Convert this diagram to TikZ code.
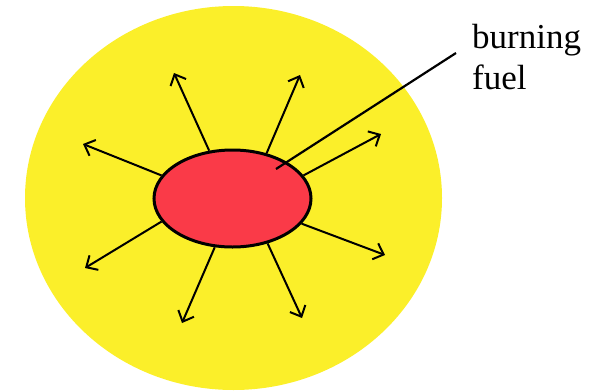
\documentclass[tikz,border=0pt]{standalone}
\usepackage{fontspec}
\setmainfont{Liberation Serif}
\usetikzlibrary{shapes.geometric,arrows.meta}
\definecolor{glowyellow}{RGB}{251,239,42}
\definecolor{fuelred}{RGB}{250,58,72}
\tikzset{
  ray/.style={line width=2pt,-{Straight Barb[length=9pt,width=17pt,line width=2pt]}},
  leader/.style={line width=2.2pt},
}
\begin{document}
\begin{tikzpicture}[x=1pt,y=-1pt]
\useasboundingbox (0,0) rectangle (604,391);
\node[ellipse,fill=glowyellow,inner sep=0,minimum width=417pt,minimum height=384pt] (glow) at (233.5,198) {};
\node[ellipse,fill=fuelred,draw=black,line width=3pt,inner sep=0,minimum width=157pt,minimum height=97pt] (fuel) at (232.5,198.5) {};
\coordinate (t1) at (174,73);
\coordinate (t2) at (300,75);
\coordinate (t3) at (83,144);
\coordinate (t4) at (381,134);
\coordinate (t5) at (385,255);
\coordinate (t6) at (302,318);
\coordinate (t7) at (182,323);
\coordinate (t8) at (85,268);
\foreach \i/\a in {1/116,2/53,3/162,4/18,5/-20,6/-52,7/-110,8/-162}
  \draw[ray] (fuel.\a) -- (t\i);
\node[anchor=north west,inner sep=0,align=left,font=\fontsize{35}{41}\selectfont] (lbl) at (472,24) {burning\\fuel};
\coordinate (lstart) at (456,53);
\coordinate (lend) at (276,169);
\draw[leader] (lstart) -- (lend);
\end{tikzpicture}
\end{document}
